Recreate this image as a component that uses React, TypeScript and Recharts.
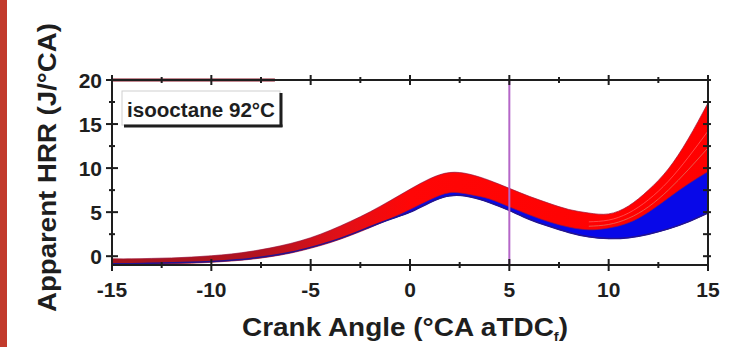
import React from 'react';
import { ComposedChart, Area, Line, XAxis, YAxis, ReferenceLine } from 'recharts';

// crank angle grid (°CA aTDC)
const angles = [
  -15, -14, -13, -12, -11, -10, -9, -8, -7, -6, -5, -4, -3, -2, -1, 0,
  1, 2, 3, 4, 5, 6, 7, 8, 9, 10, 11, 12, 13, 14, 15,
];

// envelope of the red cycles
const redLow = [
  -0.95, -0.95, -0.9, -0.85, -0.8, -0.7, -0.55, -0.35, -0.05, 0.35, 0.9, 1.55, 2.35, 3.25, 4.25, 5.3,
  6.4, 7.2, 7.0, 6.5, 5.6, 4.7, 3.9, 3.3, 3.0, 3.2, 3.8, 5.0, 6.6, 8.2, 9.6,
];
const redHigh = [
  -0.3, -0.3, -0.25, -0.2, -0.1, 0.05, 0.25, 0.55, 0.95, 1.45, 2.1, 2.95, 3.95, 5.05, 6.3, 7.6,
  8.8, 9.5, 9.3, 8.6, 7.7, 6.8, 6.0, 5.3, 4.9, 4.8, 5.7, 7.5, 9.9, 13.3, 17.4,
];

// envelope of the blue cycles
const blueLow = [
  -0.85, -0.85, -0.8, -0.75, -0.7, -0.6, -0.45, -0.25, 0.05, 0.45, 1.0, 1.65, 2.45, 3.35, 4.2, 5.0,
  6.1, 6.85, 6.75, 6.1, 5.2, 4.2, 3.4, 2.7, 2.2, 2.0, 2.1, 2.5, 3.1, 3.9, 4.9,
];
const blueHigh = [
  -0.4, -0.4, -0.35, -0.3, -0.2, -0.05, 0.15, 0.45, 0.85, 1.35, 2.0, 2.85, 3.85, 4.95, 6.2, 7.5,
  8.7, 9.4, 9.2, 8.5, 7.6, 6.6, 5.6, 4.8, 4.2, 3.9, 4.3, 5.3, 6.9, 8.5, 10.0,
];

// a couple of lighter cycles visible inside the red bundle late in the cycle
const streakA = [
  null, null, null, null, null, null, null, null, null, null, null, null, null, null, null, null,
  null, null, null, null, null, null, null, null, 3.9, 4.1, 4.9, 6.4, 8.5, 11.2, 14.2,
];
const streakB = [
  null, null, null, null, null, null, null, null, null, null, null, null, null, null, null, null,
  null, null, null, null, null, null, null, null, 3.4, 3.6, 4.3, 5.6, 7.5, 9.8, 12.3,
];

const xTicks = [-15, -12.5, -10, -7.5, -5, -2.5, 0, 2.5, 5, 7.5, 10, 12.5, 15];
const yTicks = [0, 2.5, 5, 7.5, 10, 12.5, 15, 17.5, 20];

const data = angles.map((a, i) => ({
  angle: a,
  red: [redLow[i], redHigh[i]],
  blue: [blueLow[i], blueHigh[i]],
  blueLow: blueLow[i],
  streakA: streakA[i],
  streakB: streakB[i],
}));

const INK = '#1e1e1e';
const FONT = '"Liberation Sans", Arial, sans-serif';

const isMajor = (v: number) => Math.abs(v % 5) < 1e-6;

const BottomTick = (props: any) => {
  const { x, y, payload } = props;
  const major = isMajor(payload.value);
  const s = major ? 6 : 3;
  return (
    <g>
      <line x1={x} x2={x} y1={y - s} y2={y + s} stroke={INK} strokeWidth={2} />
      {major && (
        <text x={x} y={y + 32} textAnchor="middle" fontFamily={FONT} fontWeight="bold" fontSize={21} fill={INK}>
          {payload.value}
        </text>
      )}
    </g>
  );
};

const TopTick = (props: any) => {
  const { x, y, payload } = props;
  const s = isMajor(payload.value) ? 5 : 3;
  return <line x1={x} x2={x} y1={y - s} y2={y + s} stroke={INK} strokeWidth={2} />;
};

const LeftTick = (props: any) => {
  const { x, y, payload } = props;
  const major = isMajor(payload.value);
  const s = major ? 6 : 3;
  return (
    <g>
      <line x1={x - s} x2={x + s} y1={y} y2={y} stroke={INK} strokeWidth={2} />
      {major && (
        <text x={x - 10} y={y + 7.5} textAnchor="end" fontFamily={FONT} fontWeight="bold" fontSize={21} fill={INK}>
          {payload.value}
        </text>
      )}
    </g>
  );
};

const RightTick = (props: any) => {
  const { x, y } = props;
  return <line x1={x - 5} x2={x + 3} y1={y} y2={y} stroke={INK} strokeWidth={2} />;
};

const App = () => {
  return (
    <div style={{ position: 'absolute', left: 0, top: 0, width: 743, height: 347, background: '#fff' }}>
      <ComposedChart
        width={743}
        height={347}
        data={data}
        margin={{ top: 70, right: 25, bottom: 52, left: 52 }}
      >
        <defs>
          <linearGradient id="redFill" x1="0" y1="0" x2="1" y2="0">
            <stop offset="0" stopColor="#a3161f" />
            <stop offset="0.25" stopColor="#b3121f" />
            <stop offset="0.38" stopColor="#e01018" />
            <stop offset="0.5" stopColor="#ff0606" />
            <stop offset="1" stopColor="#ff0000" />
          </linearGradient>
        </defs>
        <XAxis
          dataKey="angle"
          type="number"
          domain={[-15, 15]}
          ticks={xTicks}
          interval={0}
          tickSize={0}
          tickMargin={0}
          tickLine={false}
          tick={<BottomTick />}
          axisLine={{ stroke: INK, strokeWidth: 2 }}
          height={30}
          allowDataOverflow
        />
        <XAxis
          xAxisId="top"
          orientation="top"
          dataKey="angle"
          type="number"
          domain={[-15, 15]}
          ticks={xTicks}
          interval={0}
          tickSize={0}
          tickMargin={0}
          tickLine={false}
          tick={<TopTick />}
          axisLine={{ stroke: INK, strokeWidth: 2 }}
          height={10}
          allowDataOverflow
        />
        <YAxis
          type="number"
          domain={[-1, 20]}
          ticks={yTicks}
          interval={0}
          tickSize={0}
          tickMargin={0}
          tickLine={false}
          tick={<LeftTick />}
          axisLine={{ stroke: INK, strokeWidth: 2 }}
          width={60}
          allowDataOverflow
        />
        <YAxis
          yAxisId="right"
          orientation="right"
          type="number"
          domain={[-1, 20]}
          ticks={yTicks}
          interval={0}
          tickSize={0}
          tickMargin={0}
          tickLine={false}
          tick={<RightTick />}
          axisLine={{ stroke: INK, strokeWidth: 2 }}
          width={10}
          allowDataOverflow
        />

        <Area
          type="natural"
          dataKey="blue"
          fill="#0808e8"
          fillOpacity={1}
          stroke="#1a14b0"
          strokeWidth={1}
          isAnimationActive={false}
        />
        <Line type="natural" dataKey="blueLow" stroke="#241490" strokeWidth={1.5} dot={false} isAnimationActive={false} />
        <Area
          type="natural"
          dataKey="red"
          fill="url(#redFill)"
          fillOpacity={1}
          stroke="#a01538"
          strokeOpacity={0.7}
          strokeWidth={1}
          isAnimationActive={false}
        />
        {/* late-cycle lighter traces, drawn against the top/right frame axes (same scales) */}
        <Line
          xAxisId="top"
          yAxisId="right"
          type="natural"
          dataKey="streakA"
          stroke="#ff5a5a"
          strokeOpacity={0.8}
          strokeWidth={1}
          dot={false}
          isAnimationActive={false}
        />
        <Line
          xAxisId="top"
          yAxisId="right"
          type="natural"
          dataKey="streakB"
          stroke="#e0705e"
          strokeOpacity={0.8}
          strokeWidth={1}
          dot={false}
          isAnimationActive={false}
        />
        <ReferenceLine x={5} stroke="#b566c8" strokeWidth={2} />
        <ReferenceLine
          segment={[{ x: -15, y: 20 }, { x: -6.8, y: 20 }]}
          stroke="#8c1727"
          strokeWidth={3}
        />
      </ComposedChart>

      <svg
        width={743}
        height={347}
        style={{ position: 'absolute', left: 0, top: 0, pointerEvents: 'none' }}
      >
        <rect x={0} y={0} width={7} height={347} fill="#c23a2c" />
        <text
          transform="translate(56,167.5) rotate(-90)"
          textAnchor="middle"
          fontFamily={FONT}
          fontWeight="bold"
          fontSize={25}
          fill={INK}
          textLength={289}
          lengthAdjust="spacingAndGlyphs"
        >
          Apparent HRR (J/°CA)
        </text>
        <text
          x={405}
          y={336}
          textAnchor="middle"
          fontFamily={FONT}
          fontWeight="bold"
          fontSize={25}
          fill={INK}
          textLength={326}
          lengthAdjust="spacingAndGlyphs"
        >
          Crank Angle (°CA aTDC
          <tspan fontSize={13} dy={5}>f</tspan>
          <tspan dy={-5}>)</tspan>
        </text>
        <rect x={122} y={91} width={158} height={34} fill="#fff" stroke="#d0d0d0" strokeWidth={1} />
        <line x1={281} x2={281} y1={93} y2={127} stroke={INK} strokeWidth={3} />
        <line x1={124} x2={282.5} y1={126} y2={126} stroke={INK} strokeWidth={3} />
        <text
          x={127}
          y={116.5}
          fontFamily={FONT}
          fontWeight="bold"
          fontSize={20}
          fill={INK}
          textLength={148}
          lengthAdjust="spacingAndGlyphs"
        >
          isooctane 92°C
        </text>
      </svg>
    </div>
  );
};

export default App;
